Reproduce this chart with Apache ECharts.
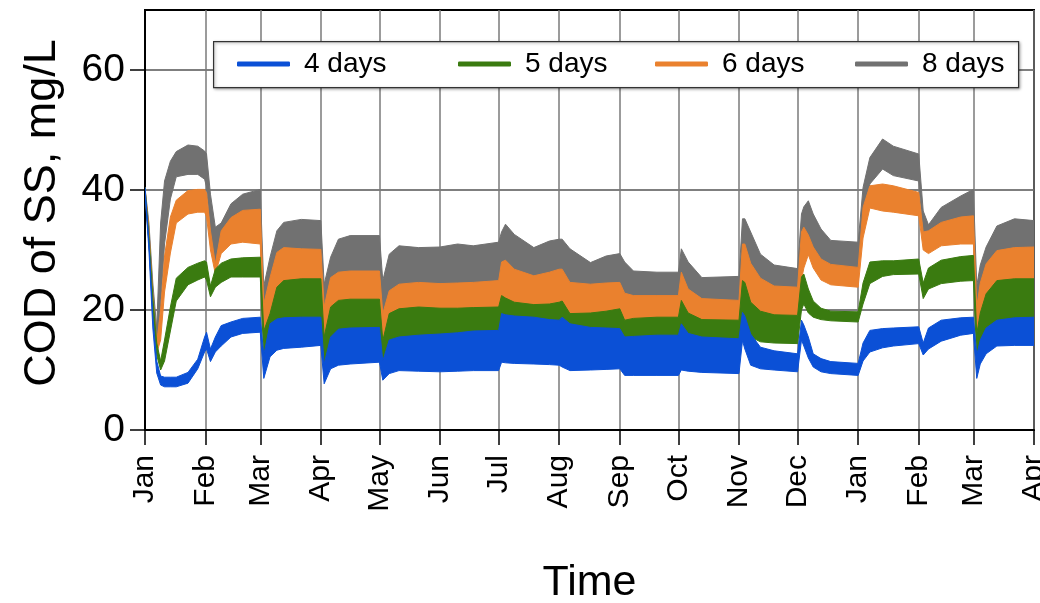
<!DOCTYPE html>
<html>
<head>
<meta charset="utf-8">
<script src="https://cdn.jsdelivr.net/npm/echarts@6/dist/echarts.min.js"></script>
<style>html,body{margin:0;padding:0;background:#fff;}#c{width:1040px;height:603px;}</style>
</head>
<body>
<div id="c"></div>
<script>
// ---- data ----
const monthLabels = ['Jan','Feb','Mar','Apr','May','Jun','Jul','Aug','Sep','Oct','Nov','Dec','Jan','Feb','Mar','Apr'];
const monthDays = [0,31,59,90,120,151,181,212,243,273,304,334,365,396,424,455];
const yTicks = [0,20,40,60];
const seriesNames = ['4 days','5 days','6 days','8 days'];

const days = [0,2,4,6,8,10,13,16,22,27,30.5,31.5,33.5,36,39,44,50,59,60.8,64,67.5,71,80,90,91.7,95,99,105,120,121.7,125,130,140,151,160,168,181,182.5,184.5,189,199,207,212,213.5,217.5,228,236,243,245.5,250,262,273,274.5,278,285,304,305.8,307,310,315,322,334,336,337.2,339.5,342,346,351,365,367.5,371,377.5,383,396,398.3,401,407.5,417.5,424,425.7,427.5,430.5,436,445,455];

const blueLo = [39.6,30,17,9.5,7.5,7.2,7.2,7.2,7.8,10.2,13,13.5,11.4,13,14,15.5,16.1,16.3,8.6,12.2,13.3,13.6,13.8,14.1,7.7,10.2,10.8,11,11.3,8.3,9.4,9.9,9.8,9.7,9.8,9.9,9.9,11.3,11.2,11.1,11,10.9,10.8,10.5,9.9,10,10.1,10.2,9.1,9.1,9.1,9.1,10,9.8,9.6,9.4,14.9,13.5,10.8,10.2,10,9.7,15,14,12,10.5,9.7,9.4,9.1,11.5,13,13.7,14,14.4,12.5,13.5,14.8,15.8,16.1,8.6,11,12.7,14,14.1,14.1];
const blueHi = [40.4,31.5,19,11.5,9,8.8,8.8,8.8,9.6,11.8,15.5,16.3,13.5,15.5,17.4,18,18.6,18.8,12.5,17.7,18.5,18.7,18.8,18.8,11,15.5,16.8,17,17.1,11.5,15,15.5,15.8,16,16.2,16.5,16.6,19.4,19.2,19,18.8,18.4,18.3,18.8,17.7,17.1,17,16.9,15.5,15.6,15.8,15.8,17.7,16.1,15.5,15.2,19.6,19,16,13.8,13.2,12.7,18.3,17.5,15.5,12.7,11.9,11.4,11.1,14.5,16.6,16.9,17,17.2,14.5,17,18.3,18.7,18.8,12.5,15,17,18.3,18.7,18.8];

const greenLo = [39.6,31,20,12.5,10,11.5,16.5,21.5,24.2,25,25.5,25,22.2,23.8,24.6,25.5,25.5,25.5,12,16.5,18,18.2,18.3,18.3,10.5,15,16.3,16.5,16.6,11,14.5,15,15.3,15.5,15.7,16,16.1,18.9,18.7,18.5,18.3,17.9,17.8,18.3,17.2,16.6,16.5,16.4,15,15.1,15.3,15.3,17.2,15.6,15,14.7,19.1,18.5,15.5,14.7,14.5,14.4,20,21,19.5,18.8,18.4,18.2,18,21,24.4,25.6,25.9,26,21.9,23.5,24.4,24.8,24.9,12,14.5,16.5,17.8,18.2,18.3];
const greenHi = [40.4,32.5,22,14.5,11.5,15,20.5,25.3,27.1,27.8,28.2,28,24,26.8,27.8,28.5,28.7,28.8,16.5,19.4,23.8,24.9,25.2,25.2,15.5,20.5,21.6,21.8,21.8,14.9,19.4,20.2,20.5,20.3,20.3,20.4,20.5,22.4,22,21.3,20.9,21,21.3,21.5,19.4,19.5,19.8,20.2,18.3,18.6,18.8,18.8,21.6,19.5,18.4,18.3,24.9,24.6,21.3,19.8,19.2,19.1,25.5,26,23.5,21.5,20.3,19.8,19.7,24.5,28,28.2,28.2,28.5,24.5,27,28.3,28.9,29.1,16,19.5,22.7,24.9,25.2,25.2];

const orangeLo = [39.6,31.5,20,12.8,15,23,29.5,34.5,36,36.3,36.3,35.5,30,26,29.4,31,31.3,31,16,19,23.3,24.4,24.7,24.7,15,20,21.1,21.3,21.3,14.4,18.9,19.7,20,19.8,19.8,19.9,20,21.9,21.5,20.8,20.4,20.5,20.8,21,18.9,19,19.3,19.7,17.8,18.1,18.3,18.3,21.1,19,17.9,17.8,24.4,24.1,20.8,19.3,18.7,18.6,25,27,29.2,27,25,24.2,23.8,32,37,36.5,36.3,35.7,30,29.4,30.7,31,31,15.5,19,22.2,24.4,24.7,24.7];
const orangeHi = [40.4,33.5,22.5,14.5,20,29,35.5,38.3,39.9,40.1,40.1,39.5,33.2,27.7,33.2,35.4,36.6,36.8,21,25.4,29.6,30.4,30.2,30.1,20.5,25.4,26.3,26.5,26.5,19.4,23.2,24.3,24.6,24.4,24.5,24.6,24.9,28,28.3,26.8,25.7,26.3,26.8,26.8,24.6,24.3,24.5,24.6,22.8,22.4,22.4,22.4,26.3,23.5,21.9,21.6,31,31,27.8,25.3,24,23.8,33,33.8,32.5,30.5,28.5,27.6,27.1,37.1,40.7,41,40.7,39.6,33,33.2,34.6,35.5,35.7,20.5,24.5,27.7,29.9,30.4,30.5];

const grayLo = [39.6,32,21,14,21,31,38.5,42.2,42.6,42.6,41.8,40.5,33,27,32.5,35,36,36.5,19.5,24.5,29,30,29.7,29.6,20,25,25.8,26,26,18.9,22.7,23.8,24.1,23.9,24,24.1,24.4,27.5,27.8,26.3,25.2,25.8,26.3,26.3,24.1,23.8,24,24.1,22.3,21.9,21.9,21.9,25.8,23,21.4,21.1,30.5,30.5,27.3,24.8,23.5,23.3,32.5,33.3,32,30,28,27.1,26.6,36.5,41,43.5,42.4,41.5,32.5,32.7,34.1,35,35.2,20,24,27.2,29.4,29.9,30];
const grayHi = [40.4,34.5,24.5,17,34.5,41.5,44.8,46.4,47.5,47.3,46.5,46,39.3,33.8,34.5,37.7,39.3,40.1,24,28.8,33.2,34.6,35.1,34.9,24.3,28.8,31.8,32.4,32.4,24.9,29.3,30.7,30.4,30.5,31,30.7,31.3,33,34.3,32.6,30.4,31.5,31.8,31.8,30.2,27.9,29,29.4,28,26.5,26.3,26.3,30.2,28,25.4,25.6,35.2,35.2,33,29.3,27.5,26.9,36,37.2,38.2,36,33.5,31.6,31.3,40.4,45.4,48.5,47.3,46,36.5,34.2,37.1,39,40.1,24,27.5,30.5,34,35.2,34.9];

// ---- chart ----
const FONT = '"Liberation Sans", Arial, Helvetica, sans-serif';
const colors = {'4 days':'#0b50d6','5 days':'#3a7b10','6 days':'#ea812e','8 days':'#717171'};

function band(name, lo, hi) {
  const c = colors[name];
  const rows = days.map((d, i) => [d, lo[i], hi[i]]);
  return {
    name: name, type: 'custom', silent: true, clip: true,
    itemStyle: { color: c },
    encode: { x: 0, y: [1, 2] },
    data: rows,
    renderItem: function (params, api) {
      if (params.dataIndex !== 0) return null;
      const pts = [];
      for (let i = 0; i < rows.length; i++) pts.push(api.coord([rows[i][0], rows[i][1]]));
      for (let i = rows.length - 1; i >= 0; i--) pts.push(api.coord([rows[i][0], rows[i][2]]));
      return {
        type: 'polygon',
        shape: { points: pts },
        style: { fill: c, stroke: c, lineWidth: 1 }
      };
    }
  };
}

const series = [
  band('8 days', grayLo, grayHi),
  band('6 days', orangeLo, orangeHi),
  band('5 days', greenLo, greenHi),
  band('4 days', blueLo, blueHi)
];

const legendLefts = [237, 458, 655, 855];
const legends = seriesNames.map((n, i) => ({
  data: [{ name: n, icon: 'roundRect', itemStyle: { color: colors[n] } }],
  left: legendLefts[i], top: 50, padding: 0,
  itemWidth: 53, itemHeight: 5, selectedMode: false,
  textStyle: { fontSize: 28, color: '#000', fontFamily: FONT, padding: [0, 0, 0, 9] }
}));

const chart = echarts.init(document.getElementById('c'), null, { renderer: 'canvas' });
chart.setOption({
  animation: false,
  backgroundColor: '#fff',
  grid: { left: 145, right: 6, top: 10, bottom: 173, show: true, borderColor: '#000', borderWidth: 2,
          backgroundColor: 'transparent', containLabel: false, outerBoundsMode: 'none' },
  legend: legends,
  graphic: [{
    type: 'rect', left: 213, top: 41, z: 3,
    shape: { width: 805, height: 46 },
    style: { fill: '#fff', stroke: '#333', lineWidth: 1.2, shadowBlur: 3, shadowColor: 'rgba(0,0,0,0.35)', shadowOffsetX: 1, shadowOffsetY: 1 }
  }],
  xAxis: {
    type: 'value', min: 0, max: 455,
    name: 'Time', nameLocation: 'middle', nameGap: 132,
    nameTextStyle: { fontSize: 43, color: '#000', fontFamily: FONT },
    axisLine: { lineStyle: { color: '#000', width: 2 } },
    axisTick: { customValues: monthDays, length: 15, lineStyle: { color: '#000', width: 1.5 } },
    axisLabel: { customValues: monthDays, rotate: 90, margin: 25, fontSize: 30, color: '#000', fontFamily: FONT,
      formatter: v => { const k = monthDays.indexOf(v); return k >= 0 ? monthLabels[k] : ''; } },
    splitLine: { show: true, lineStyle: { color: '#7a7a7a', width: 1.5 } }
  },
  yAxis: {
    type: 'value', min: 0, max: 70, interval: 20,
    name: 'COD of SS, mg/L', nameLocation: 'middle', nameGap: 80, nameRotate: 90,
    nameTextStyle: { fontSize: 45, color: '#000', fontFamily: FONT, padding: [0, 0, 0, 14] },
    axisLine: { show: true, lineStyle: { color: '#000', width: 2 } },
    axisTick: { show: true, customValues: yTicks, length: 15, lineStyle: { color: '#000', width: 1.5 } },
    axisLabel: { customValues: yTicks, margin: 20, fontSize: 39, color: '#000', fontFamily: FONT },
    splitLine: { show: true, lineStyle: { color: '#555', width: 1.5 } }
  },
  series: series
});
</script>
</body>
</html>
